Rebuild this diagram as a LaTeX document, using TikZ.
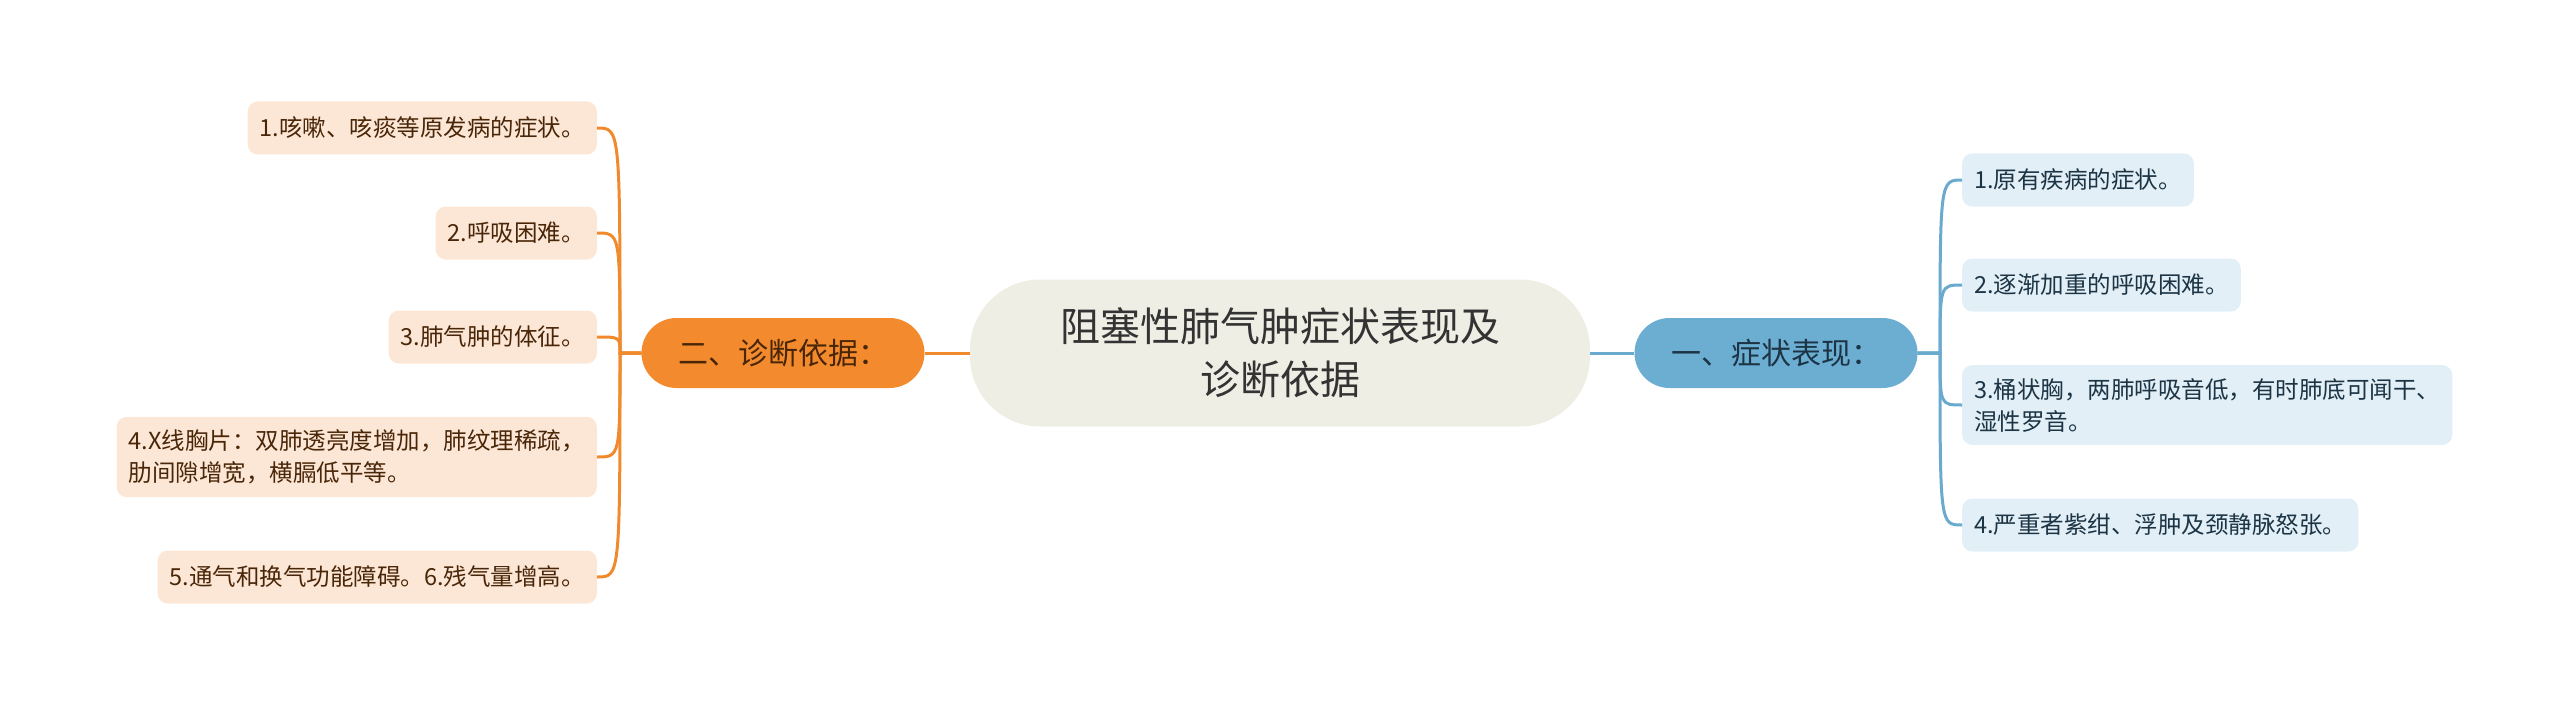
\documentclass[tikz,border=0pt]{standalone}
\usepackage{fontspec}
\setmainfont{Noto Sans CJK SC}
\definecolor{rootfill}{HTML}{EFEEE5}
\definecolor{roottext}{HTML}{333333}
\definecolor{orangeline}{HTML}{F08A2C}
\definecolor{orangefill}{HTML}{F38B2E}
\definecolor{orangeleaf}{HTML}{FCE7D6}
\definecolor{orangetext}{HTML}{4A2608}
\definecolor{blueline}{HTML}{6AAACE}
\definecolor{bluefill}{HTML}{6CAED2}
\definecolor{blueleaf}{HTML}{E2EFF7}
\definecolor{bluetext}{HTML}{1C3444}

\begin{document}
\begin{tikzpicture}[x=1pt, y=-1pt,
      root/.style = {fill=rootfill, text=roottext, rounded corners=70pt,
        minimum width=620pt, minimum height=147pt, align=center,
        font=\fontsize{40}{53}\selectfont},
      branch/.style = {rounded corners=35pt, minimum width=283pt,
        minimum height=70pt, font=\fontsize{30}{36}\selectfont},
      lleaf/.style = {fill=orangeleaf, text=orangetext, rounded corners=10pt,
        anchor=east, align=left, inner xsep=12pt, inner ysep=13pt,
        minimum height=53pt, font=\fontsize{23.5}{32}\selectfont},
      rleaf/.style = {fill=blueleaf, text=bluetext, rounded corners=10pt,
        anchor=west, align=left, inner xsep=12pt, inner ysep=13pt,
        minimum height=53pt, font=\fontsize{23.5}{32}\selectfont},
      olink/.style = {draw=orangeline, line width=3pt},
      blink/.style = {draw=blueline, line width=3pt}]
    \useasboundingbox (0,0) rectangle (2560,706);

    % nodes
    \node[root] (root) at (1280,353) {阻塞性肺气肿症状表现及\\诊断依据};
    \node[branch, fill=orangefill, text=orangetext] (diag) at (783,353) {二、诊断依据：};
    \node[branch, fill=bluefill, text=bluetext] (symp) at (1776,353) {一、症状表现：};

    \node[lleaf] (l1) at (597,128) {1.咳嗽、咳痰等原发病的症状。};
    \node[lleaf] (l2) at (597,233) {2.呼吸困难。};
    \node[lleaf] (l3) at (597,337) {3.肺气肿的体征。};
    \node[lleaf] (l4) at (597,457) {4.X线胸片：双肺透亮度增加，肺纹理稀疏，\\肋间隙增宽，横膈低平等。};
    \node[lleaf] (l5) at (597,577) {5.通气和换气功能障碍。6.残气量增高。};

    \node[rleaf] (r1) at (1962,180) {1.原有疾病的症状。};
    \node[rleaf] (r2) at (1962,285) {2.逐渐加重的呼吸困难。};
    \node[rleaf] (r3) at (1962,405) {3.桶状胸，两肺呼吸音低，有时肺底可闻干、\\湿性罗音。};
    \node[rleaf] (r4) at (1962,525) {4.严重者紫绀、浮肿及颈静脉怒张。};

    \coordinate (dj) at (620,353);
    \coordinate (sj) at (1940,353);

    % edges
    \draw[olink] (root.west) -- (diag.east);
    \draw[blink] (root.east) -- (symp.west);
    \foreach \n in {l1,l2,l3,l4,l5}
      \draw[olink] (diag.west) -- (dj) .. controls (dj |- \n.east) and (dj |- \n.east) .. (\n.east);
    \foreach \n in {r1,r2,r3,r4}
      \draw[blink] (symp.east) -- (sj) .. controls (sj |- \n.west) and (sj |- \n.west) .. (\n.west);

  \end{tikzpicture}
\end{document}
